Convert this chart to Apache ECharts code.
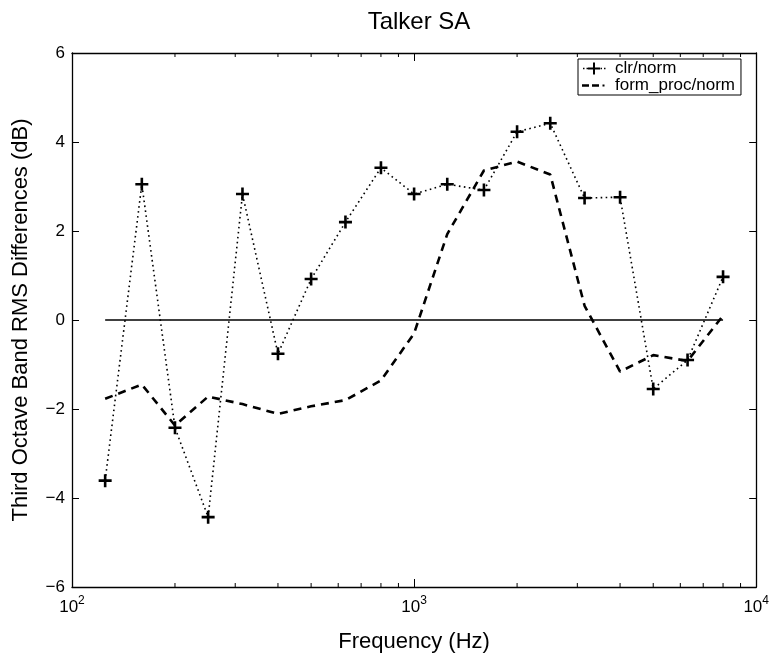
<!DOCTYPE html>
<html>
<head>
<meta charset="utf-8">
<script src="https://cdn.jsdelivr.net/npm/echarts@6/dist/echarts.min.js"></script>
<style>
  html, body { margin: 0; padding: 0; background: #fff; }
  #chart { width: 772px; height: 658px; }
</style>
</head>
<body>
<div id="chart"></div>
<script>
// Third-octave band centre frequencies (Hz)
var bands = [125, 160, 200, 250, 315, 400, 500, 630, 800, 1000, 1250, 1600, 2000, 2500, 3150, 4000, 5000, 6300, 8000];
// RMS level differences per band (dB)
var clrNorm = [-3.61, 3.05, -2.42, -4.43, 2.83, -0.76, 0.92, 2.2, 3.42, 2.83, 3.05, 2.92, 4.23, 4.42, 2.74, 2.76, -1.55, -0.9, 0.97];
var formProcNorm = [-1.77, -1.45, -2.37, -1.72, -1.89, -2.11, -1.94, -1.8, -1.36, -0.3, 1.93, 3.36, 3.56, 3.27, 0.32, -1.16, -0.79, -0.92, 0.1];
// Reference line at 0 dB across the measured bands
var zeroLine = [[125, 0], [8000, 0]];
// Axis ticks
var yTicks = [-6, -4, -2, 0, 2, 4, 6];
var xDecades = [100, 1000, 10000];
var xMinorTicks = [200, 300, 400, 500, 600, 700, 800, 900, 2000, 3000, 4000, 5000, 6000, 7000, 8000, 9000];

var FONT = '"Liberation Sans", Arial, Helvetica, sans-serif';
var plusPath = 'path://M4,0H6V4H10V6H6V10H4V6H0V4H4Z';
// legend glyphs on a 24x16 box: dotted line with a plus, and dash-dash-dot
var boxCorners = ' M0,0H0.01V0.01H0Z M23.99,15.99H24V16H23.99Z';
var clrIcon = 'path://M1,7.3H2.5V8.7H1Z M4.5,7.3H6V8.7H4.5Z M11,2H13V7H18V9H13V14H11V9H6V7H11Z M18.5,7.3H20V8.7H18.5Z M22,7.3H23.5V8.7H22Z' + boxCorners;
var formIcon = 'path://M0,6.7H7V9.3H0Z M10,6.7H17V9.3H10Z M20.5,6.9H22.5V9.1H20.5Z' + boxCorners;

var chart = echarts.init(document.getElementById('chart'), null, { renderer: 'canvas' });

function minorTickItem(params, api) {
  var x = api.value(0);
  var bottom = api.coord([x, yTicks[0]]);
  var top = api.coord([x, yTicks[yTicks.length - 1]]);
  var len = 4;
  var style = { stroke: '#000', lineWidth: 1 };
  return {
    type: 'group',
    children: [
      { type: 'line', shape: { x1: bottom[0], y1: bottom[1], x2: bottom[0], y2: bottom[1] - len }, style: style },
      { type: 'line', shape: { x1: top[0], y1: top[1], x2: top[0], y2: top[1] + len }, style: style }
    ]
  };
}

var axisLineStyle = { color: '#000', width: 1.3 };

var option = {
  backgroundColor: '#fff',
  animation: false,
  title: {
    text: 'Talker SA',
    left: 414,
    top: 5,
    textAlign: 'center',
    textStyle: { fontFamily: FONT, fontSize: 24, fontWeight: 'normal', color: '#000' }
  },
  legend: {
    orient: 'vertical',
    left: 578,
    top: 59,
    padding: [1, 6, 1, 4],
    itemGap: 0,
    itemWidth: 24,
    itemHeight: 16,
    backgroundColor: '#fff',
    borderColor: '#000',
    borderWidth: 1,
    data: [
      { name: 'clr/norm', icon: clrIcon },
      { name: 'form_proc/norm', icon: formIcon }
    ],
    itemStyle: { color: '#000', borderWidth: 0 },
    textStyle: { fontFamily: FONT, fontSize: 17, color: '#000', lineHeight: 16, padding: [0, 0, 0, 4] }
  },
  grid: { left: 72, right: 15, top: 53, bottom: 63, containLabel: false },
  xAxis: [
    {
      type: 'log',
      logBase: 10,
      min: xDecades[0],
      max: xDecades[xDecades.length - 1],
      position: 'bottom',
      name: 'Frequency (Hz)',
      nameLocation: 'middle',
      nameGap: 44,
      nameTextStyle: { fontFamily: FONT, fontSize: 22, color: '#000' },
      axisLine: { onZero: false, lineStyle: axisLineStyle },
      axisTick: { inside: true, length: 8, lineStyle: { color: '#000', width: 1 } },
      splitLine: { show: false },
      axisLabel: {
        margin: 8,
        formatter: function (v) {
          return '{b|10}{s|' + Math.round(Math.log10(v)) + '}';
        },
        rich: {
          b: { fontFamily: FONT, fontSize: 17, color: '#000' },
          s: { fontFamily: FONT, fontSize: 12, color: '#000', padding: [0, 0, 12, 0] }
        }
      }
    },
    {
      type: 'log',
      logBase: 10,
      min: xDecades[0],
      max: xDecades[xDecades.length - 1],
      position: 'top',
      axisLine: { onZero: false, lineStyle: axisLineStyle },
      axisTick: { inside: true, length: 8, lineStyle: { color: '#000', width: 1 } },
      axisLabel: { show: false },
      splitLine: { show: false }
    }
  ],
  yAxis: [
    {
      type: 'value',
      min: yTicks[0],
      max: yTicks[yTicks.length - 1],
      interval: 2,
      position: 'left',
      name: 'Third Octave Band RMS Differences (dB)',
      nameLocation: 'middle',
      nameGap: 40,
      nameTextStyle: { fontFamily: FONT, fontSize: 22, color: '#000' },
      axisLine: { onZero: false, lineStyle: axisLineStyle },
      axisTick: { inside: true, length: 7, lineStyle: { color: '#000', width: 1 } },
      splitLine: { show: false },
      axisLabel: { margin: 7, fontFamily: FONT, fontSize: 17, color: '#000',
        formatter: function (v) { return v < 0 ? '\u2212' + Math.abs(v) : String(v); } }
    },
    {
      type: 'value',
      min: yTicks[0],
      max: yTicks[yTicks.length - 1],
      interval: 2,
      position: 'right',
      axisLine: { show: true, onZero: false, lineStyle: axisLineStyle },
      axisTick: { inside: true, length: 7, lineStyle: { color: '#000', width: 1 } },
      axisLabel: { show: false },
      splitLine: { show: false }
    }
  ],
  series: [
    {
      name: 'zero',
      type: 'line',
      data: zeroLine,
      symbol: 'none',
      silent: true,
      lineStyle: { color: '#000', width: 1.5, type: 'solid' },
      z: 1
    },
    {
      name: 'clr/norm',
      type: 'line',
      data: bands.map(function (f, i) { return [f, clrNorm[i]]; }),
      symbol: plusPath,
      symbolSize: 13,
      showAllSymbol: true,
      itemStyle: { color: '#000' },
      lineStyle: { color: '#000', width: 1.6, type: [1.6, 3.4], cap: 'butt' },
      z: 3
    },
    {
      name: 'form_proc/norm',
      type: 'line',
      data: bands.map(function (f, i) { return [f, formProcNorm[i]]; }),
      symbol: 'none',
      itemStyle: { color: '#000' },
      lineStyle: { color: '#000', width: 2.6, type: [8, 6], cap: 'butt' },
      z: 2
    },
    {
      name: 'minor ticks',
      type: 'custom',
      silent: true,
      clip: false,
      renderItem: minorTickItem,
      data: xMinorTicks.map(function (f) { return [f, 0]; }),
      z: 4
    }
  ]
};

chart.setOption(option);
</script>
</body>
</html>
